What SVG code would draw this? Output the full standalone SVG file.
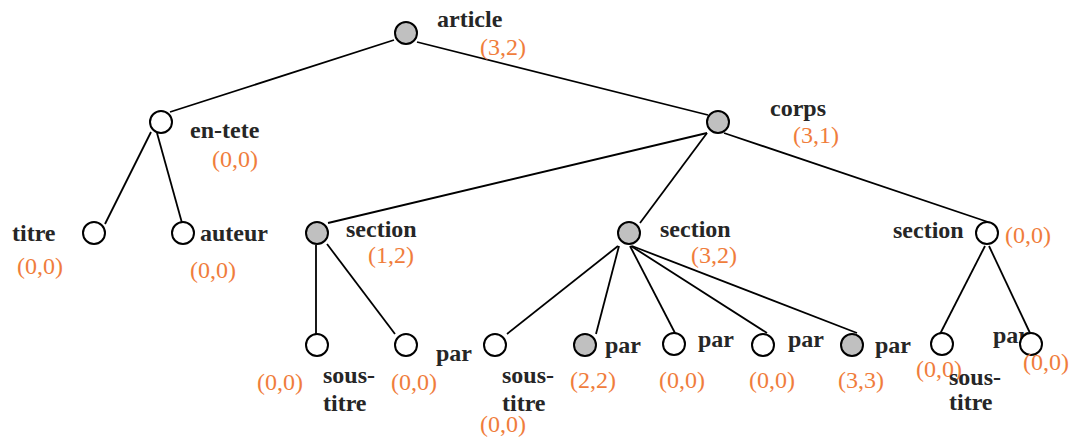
<svg xmlns="http://www.w3.org/2000/svg" width="1072" height="440" viewBox="0 0 1072 440">
<style>
.lbl{font-family:"Liberation Serif","Times New Roman",serif;font-weight:bold;font-size:24px;fill:#262626}
.num{font-family:"Liberation Serif","Times New Roman",serif;font-size:24px;fill:#F07D3C}
.n{stroke:#000;stroke-width:2;fill:#fff}
.g{fill:#C0C0C0}
#edges line{stroke:#000;stroke-width:1.8}
</style>
<rect width="1072" height="440" fill="#fff"/>
<g id="edges">
<line x1="394" y1="40" x2="170" y2="112"/>
<line x1="417" y1="42" x2="708" y2="115"/>
<line x1="151" y1="132" x2="105" y2="224"/>
<line x1="157" y1="133" x2="182" y2="223"/>
<line x1="707" y1="133" x2="328" y2="223"/>
<line x1="707" y1="133" x2="640" y2="223"/>
<line x1="724" y1="133" x2="988" y2="222"/>
<line x1="316" y1="245" x2="316" y2="334"/>
<line x1="327" y1="244" x2="395" y2="334"/>
<line x1="618" y1="246" x2="507" y2="334"/>
<line x1="619" y1="246" x2="596" y2="334"/>
<line x1="630" y1="246" x2="675" y2="333"/>
<line x1="631" y1="246" x2="767" y2="333"/>
<line x1="632" y1="246" x2="857" y2="333"/>
<line x1="985" y1="246" x2="940" y2="334"/>
<line x1="989" y1="246" x2="1030" y2="333"/>
</g>
<g id="article"><circle class="n g" cx="406" cy="33" r="11"/><text class="lbl" x="437" y="27">article</text><text class="num" x="480" y="55">(3,2)</text></g>
<g id="en-tete"><circle class="n" cx="161" cy="122" r="11"/><text class="lbl" x="190" y="138">en-tete</text><text class="num" x="212" y="167">(0,0)</text></g>
<g id="corps"><circle class="n g" cx="718" cy="122" r="11"/><text class="lbl" x="770" y="116">corps</text><text class="num" x="793" y="143">(3,1)</text></g>
<g id="titre"><circle class="n" cx="94" cy="233" r="11"/><text class="lbl" x="12" y="241">titre</text><text class="num" x="17" y="274">(0,0)</text></g>
<g id="auteur"><circle class="n" cx="183" cy="233" r="11"/><text class="lbl" x="200" y="241">auteur</text><text class="num" x="190" y="278">(0,0)</text></g>
<g id="section1"><circle class="n g" cx="317" cy="233" r="11"/><text class="lbl" x="346" y="237">section</text><text class="num" x="368" y="263">(1,2)</text></g>
<g id="section2"><circle class="n g" cx="629" cy="233" r="11"/><text class="lbl" x="660" y="237">section</text><text class="num" x="691" y="263">(3,2)</text></g>
<g id="section3"><text class="lbl" x="893" y="238">section</text><circle class="n" cx="987" cy="233" r="11"/><text class="num" x="1005" y="243">(0,0)</text></g>
<g id="s1-soustitre"><circle class="n" cx="317" cy="345" r="11"/><text class="num" x="257" y="390">(0,0)</text><text class="lbl" x="323" y="383">sous-</text><text class="lbl" x="323" y="411">titre</text></g>
<g id="s1-par"><circle class="n" cx="406" cy="345" r="11"/><text class="num" x="391" y="390">(0,0)</text><text class="lbl" x="436" y="361">par</text></g>
<g id="s2-soustitre"><circle class="n" cx="495" cy="345" r="11"/><text class="lbl" x="502" y="383">sous-</text><text class="lbl" x="502" y="411">titre</text><text class="num" x="480" y="432">(0,0)</text></g>
<g id="s2-par1"><circle class="n g" cx="585" cy="345" r="11"/><text class="lbl" x="605" y="353">par</text><text class="num" x="570" y="388">(2,2)</text></g>
<g id="s2-par2"><circle class="n" cx="674" cy="344" r="11"/><text class="lbl" x="698" y="347">par</text><text class="num" x="659" y="388">(0,0)</text></g>
<g id="s2-par3"><circle class="n" cx="763" cy="345" r="11"/><text class="lbl" x="788" y="347">par</text><text class="num" x="749" y="388">(0,0)</text></g>
<g id="s2-par4"><circle class="n g" cx="852" cy="345" r="11"/><text class="lbl" x="875" y="353">par</text><text class="num" x="838" y="388">(3,3)</text></g>
<g id="s3-soustitre"><circle class="n" cx="942" cy="344" r="11"/><text class="num" x="916" y="377">(0,0)</text><text class="lbl" x="949" y="385">sous-</text><text class="lbl" x="949" y="410">titre</text></g>
<g id="s3-par"><text class="lbl" x="993" y="343">par</text><circle class="n" cx="1031" cy="344" r="11"/><text class="num" x="1023" y="370">(0,0)</text></g>
</svg>
